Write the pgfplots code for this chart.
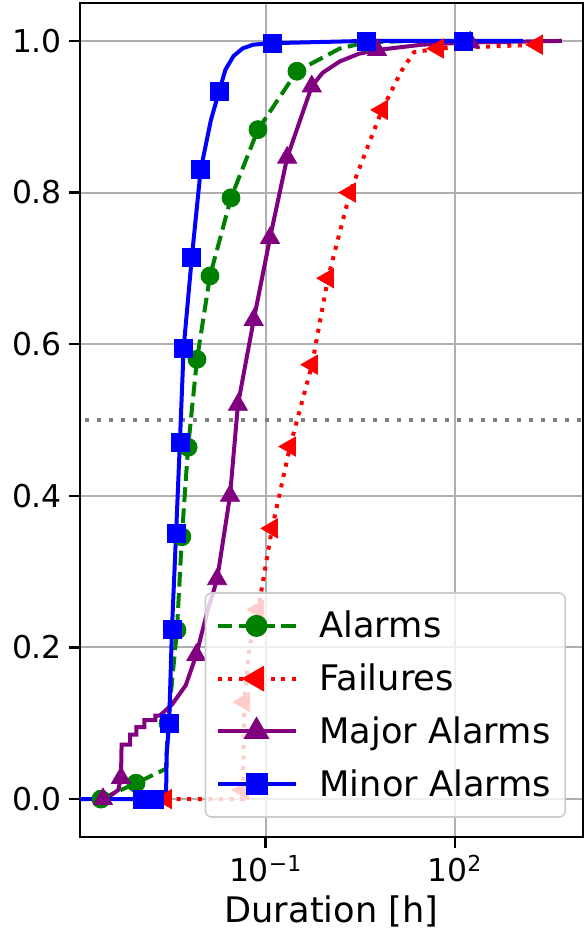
\documentclass[border=0pt]{standalone}
\usepackage{pgfplots}
\pgfplotsset{compat=1.18}
\usepackage{fontspec}
\setmainfont{DejaVu Sans}
\definecolor{mplgreen}{RGB}{0,128,0}
\definecolor{mplpurple}{RGB}{128,0,128}
\definecolor{mplblue}{RGB}{0,0,255}
\definecolor{mplred}{RGB}{255,0,0}
\definecolor{gridgray}{RGB}{176,176,176}
\definecolor{legendgray}{RGB}{204,204,204}
\definecolor{halfgray}{RGB}{128,128,128}
\begin{document}
\begin{tikzpicture}
\begin{axis}[
  name=ax,
  scale only axis, width=251.5pt, height=417pt,
  xmode=log, xmin=1.14e-4, xmax=1.07e4,
  ymin=-0.05, ymax=1.05,
  xtick={0.1,100}, xticklabels={10\textsuperscript{−1},10\textsuperscript{2}},
  xminorticks=false, yminorticks=false,
  ytick={0,0.2,0.4,0.6,0.8,1.0}, yticklabels={0.0,0.2,0.4,0.6,0.8,1.0},
  grid=major, major grid style={color=gridgray, line width=1pt},
  tick align=outside, major tick length=5.5pt, tick pos=left,
  axis line style={line width=1.2pt},
  tick style={line width=1.2pt, black},
  tick label style={font=\fontsize{15.7}{18}\selectfont},
  xlabel={Duration [h]},
  xlabel style={font=\fontsize{17.6}{20}\selectfont},
  legend style={at={(0.966,0.023)}, anchor=south east, draw=legendgray, line width=0.8pt,
    fill=white, fill opacity=0.8, draw opacity=1, text opacity=1, rounded corners=3pt,
    font=\fontsize{17.6}{20}\selectfont, row sep=7.5pt, column sep=9pt,
    inner xsep=5pt, inner ysep=7pt},
  legend cell align=left,
  legend image code/.code={\draw[#1, mark repeat=2, mark phase=2] plot coordinates {(0pt,0pt) (19.5pt,0pt) (39pt,0pt)};},
]
\addplot[halfgray, line width=1.8pt, dash pattern=on 1.8pt off 4.2pt, forget plot] coordinates {(1e-5,0.5) (1e5,0.5)};

% Alarms
\addplot[mplgreen, line width=2pt, dash pattern=on 7.4pt off 3.2pt, forget plot] coordinates {
(2.45e-4,0) (8.81e-4,0.021) (2.63e-3,0.04) (2.83e-3,0.10) (3.93e-3,0.223) (4.69e-3,0.346)
(5.89e-3,0.464) (8.15e-3,0.58) (1.31e-2,0.69) (2.82e-2,0.793) (7.55e-2,0.883) (0.313,0.96)
(1.5,0.99) (3.89,0.998) (20,1.0)};
\addplot[mplgreen, only marks, mark=*, mark size=4.5pt, forget plot] coordinates {
(2.45e-4,0) (8.81e-4,0.021) (2.83e-3,0.10) (3.93e-3,0.223) (4.69e-3,0.346)
(5.89e-3,0.464) (8.15e-3,0.58) (1.31e-2,0.69) (2.82e-2,0.793) (7.55e-2,0.883) (0.313,0.96) (3.89,0.998)};

% Failures
\addplot[mplred, line width=2pt, dash pattern=on 2pt off 3.3pt, forget plot] coordinates {
(2.63e-3,0) (4.37e-2,0) (4.40e-2,0.012) (4.57e-2,0.128) (5.5e-2,0.2) (7.6e-2,0.25)
(0.126,0.357) (0.243,0.465) (0.542,0.573) (0.970,0.687) (2.17,0.80) (6.97,0.909)
(14.1,0.96) (22.4,0.985) (53.7,0.99) (1995,0.995)};
\addplot[mplred, only marks, mark=triangle*, mark size=5.5pt, mark options={rotate=90}, forget plot] coordinates {
(2.63e-3,0) (4.40e-2,0.012) (4.57e-2,0.128) (7.6e-2,0.25)
(0.126,0.357) (0.243,0.465) (0.542,0.573) (0.970,0.687) (2.17,0.80) (6.97,0.909)
(53.7,0.99) (1995,0.995)};

% Major Alarms
\addplot[mplpurple, line width=2pt, forget plot] coordinates {
(2.64e-4,0) (3.5e-4,0.005) (4.6e-4,0.012) (5.09e-4,0.028) (5.2e-4,0.072)
(7.08e-4,0.072) (7.08e-4,0.085) (8.91e-4,0.085) (8.91e-4,0.095) (1.20e-3,0.095)
(1.20e-3,0.104) (1.78e-3,0.104) (1.78e-3,0.110) (2.09e-3,0.11) (3.3e-3,0.125)
(5.4e-3,0.15) (7.94e-3,0.19) (1.17e-2,0.245) (1.70e-2,0.29) (2.72e-2,0.40)
(3.63e-2,0.52) (6.46e-2,0.632) (0.117,0.74) (0.219,0.846) (0.537,0.94)
(0.8,0.958) (1.5,0.973) (3.0,0.983) (5.81,0.988) (30,0.995) (174,0.998) (4966,1.0)};
\addplot[mplpurple, only marks, mark=triangle*, mark size=5.5pt, forget plot] coordinates {
(2.64e-4,0) (5.09e-4,0.028) (7.94e-3,0.19) (1.70e-2,0.29) (2.72e-2,0.40)
(3.63e-2,0.52) (6.46e-2,0.632) (0.117,0.74) (0.219,0.846) (0.537,0.94)
(5.81,0.988) (174,0.998)};

% Minor Alarms
\addplot[mplblue, line width=2pt, forget plot] coordinates {
(1e-4,0) (1.10e-3,0) (1.70e-3,0) (2.63e-3,0) (2.70e-3,0.06) (2.95e-3,0.10)
(3.27e-3,0.224) (3.80e-3,0.35) (4.37e-3,0.471) (5.01e-3,0.595) (6.76e-3,0.715)
(9.33e-3,0.83) (1.35e-2,0.895) (1.82e-2,0.933) (2.3e-2,0.962) (3.09e-2,0.980)
(4.3e-2,0.990) (6.31e-2,0.995) (0.126,0.997)
(3.89,1.0) (138,1.0) (1202,1.0)};
\addplot[mplblue, only marks, mark=square*, mark size=4.5pt, forget plot] coordinates {
(1.10e-3,0) (1.70e-3,0) (2.95e-3,0.10)
(3.27e-3,0.224) (3.80e-3,0.35) (4.37e-3,0.471) (5.01e-3,0.595) (6.76e-3,0.715)
(9.33e-3,0.83) (1.82e-2,0.933) (0.126,0.997) (3.89,1.0) (138,1.0)};

\addlegendimage{mplgreen, line width=2pt, dash pattern=on 7.4pt off 3.2pt, mark=*, mark size=4.5pt, mark options={solid}, fill opacity=1}
\addlegendentry{Alarms}
\addlegendimage{mplred, line width=2pt, dash pattern=on 2pt off 3.3pt, mark=triangle*, mark size=5.5pt, mark options={solid, rotate=90}, fill opacity=1}
\addlegendentry{Failures}
\addlegendimage{mplpurple, line width=2pt, mark=triangle*, mark size=5.5pt, mark options={solid}, fill opacity=1}
\addlegendentry{Major Alarms}
\addlegendimage{mplblue, line width=2pt, mark=square*, mark size=4.5pt, mark options={solid}, fill opacity=1}
\addlegendentry{Minor Alarms}
\end{axis}
\pgfresetboundingbox
\path[use as bounding box] ([xshift=-40pt,yshift=-53.5pt]ax.south west) rectangle ([xshift=1pt,yshift=1.5pt]ax.north east);
\end{tikzpicture}
\end{document}
